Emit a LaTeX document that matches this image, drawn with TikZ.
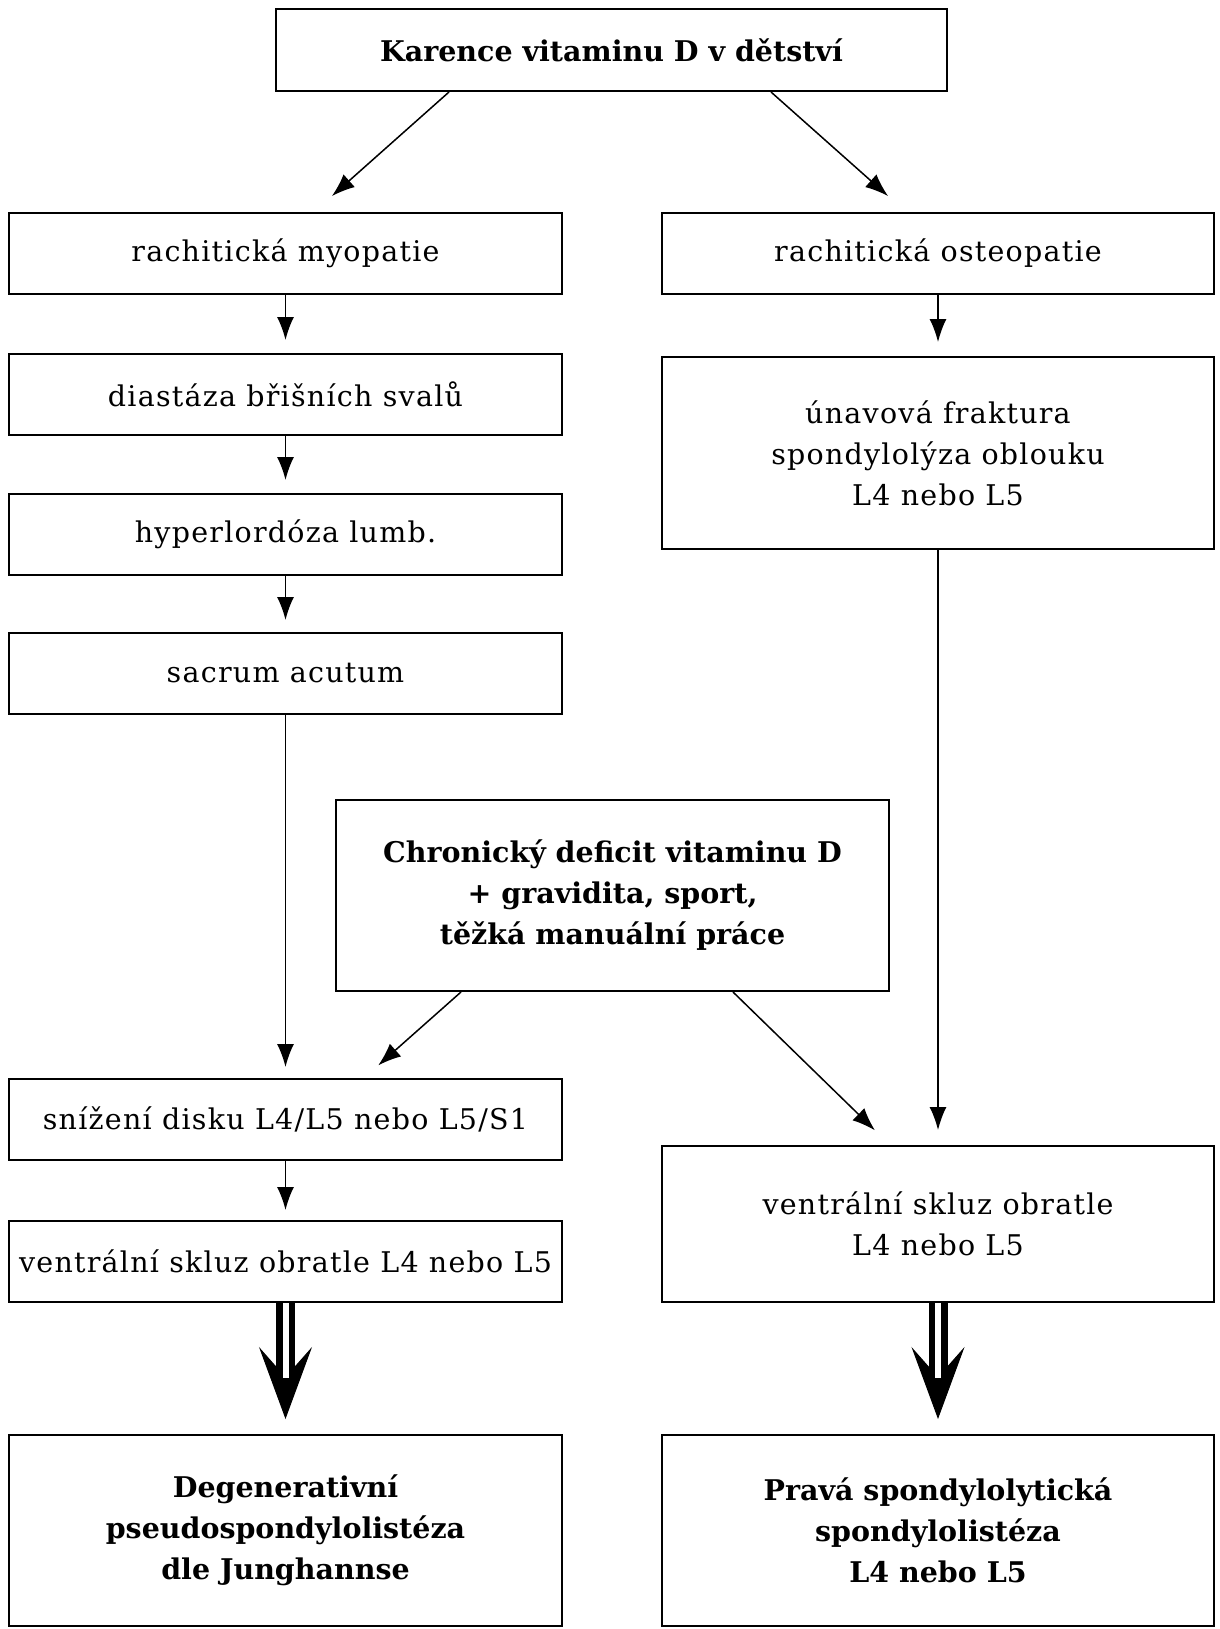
\documentclass[tikz,border=0pt]{standalone}
\usepackage{fontspec}
\setmainfont{DejaVu Serif}
\newfontfamily\regf{DejaVu Serif}[LetterSpace=4.4]
\usetikzlibrary{arrows.meta,calc}
\begin{document}
\begin{tikzpicture}[x=1pt,y=-1pt,
  box/.style={draw, line width=2pt, minimum width=553pt, align=center, inner sep=0pt,
    font=\regf\fontsize{28.5}{41}\selectfont},
  bbox/.style={box, font=\fontsize{28.5}{41}\selectfont\bfseries},
  arr/.style={-{Latex[length=23pt,width=17pt]}, line width=1.5pt, shorten >=12pt},
  bigarr/.style={-{Stealth[length=72pt,width=53pt,inset=30pt]}, line width=1pt, shorten >=15pt},
  shaft/.style={draw=black, line width=6.5pt, double=white, double distance=6pt}
]
\useasboundingbox[fill=white] (0,0) rectangle (1219,1629);

\node[bbox, minimum width=671pt, minimum height=82pt] (top) at (611.5,50) {Karence vitaminu D v dětství};
\node[box, minimum height=81pt] (myo) at (285.5,253.5) {rachitická myopatie};
\node[box, minimum width=552pt, minimum height=81pt] (ost) at (938,253.5) {rachitická osteopatie};
\node[box, minimum height=81pt] (dia) at (285.5,394.5) {diastáza břišních svalů};
\node[box, minimum height=81pt] (hyp) at (285.5,534.5) {hyperlordóza lumb.};
\node[box, minimum height=81pt] (sac) at (285.5,673.5) {sacrum acutum};
\node[box, minimum width=552pt, minimum height=192pt] (una) at (938,453) {únavová fraktura\\spondylolýza oblouku\\L4 nebo L5};
\node[bbox, minimum height=191pt] (chr) at (612.5,895.5) {Chronický deficit vitaminu D\\+ gravidita, sport,\\těžká manuální práce};
\node[box, minimum height=81pt] (sni) at (285.5,1119.5) {snížení disku L4/L5 nebo L5/S1};
\node[box, minimum height=81pt] (vl) at (285.5,1261.5) {ventrální skluz obratle L4 nebo L5};
\node[box, minimum width=552pt, minimum height=156pt] (vr) at (938,1224) {ventrální skluz obratle\\L4 nebo L5};
\node[bbox, minimum height=191pt] (deg) at (285.5,1530.5) {Degenerativní\\pseudospondylolistéza\\dle Junghannse};
\node[bbox, minimum width=552pt, minimum height=191pt] (pra) at (938,1530.5) {Pravá spondylolytická\\spondylolistéza\\L4 nebo L5};

% diagonal connectors
\draw[arr, shorten >=24pt] ($(top.south west)+(174,0)$) -- ($(myo.north west)+(306,0)$);
\draw[arr, shorten >=24pt] ($(top.south west)+(496,0)$) -- ($(ost.north west)+(245,0)$);
\draw[arr, shorten >=19pt] ($(chr.south west)+(126,0)$) -- ($(sni.north west)+(356,0)$);
\draw[arr, shorten >=21pt] ($(chr.south west)+(398,0)$) -- ($(vr.north west)+(229,0)$);

% vertical connectors
\draw[arr, shorten >=13pt] (myo) -- (dia);
\draw[arr, shorten >=13pt] (dia) -- (hyp);
\draw[arr] (hyp) -- (sac);
\draw[arr, shorten >=11pt] (sac) -- (sni);
\draw[arr, shorten >=10pt] (sni) -- (vl);
\draw[arr, shorten >=14pt] (ost) -- (una);
\draw[arr, shorten >=15pt] (una) -- (vr);

% big arrows
\draw[bigarr] (vl) -- (deg);
\draw[shaft] (vl.south) -- ($(vl.south)+(0,75)$);
\draw[bigarr] (vr) -- (pra);
\draw[shaft] (vr.south) -- ($(vr.south)+(0,75)$);
\end{tikzpicture}
\end{document}
